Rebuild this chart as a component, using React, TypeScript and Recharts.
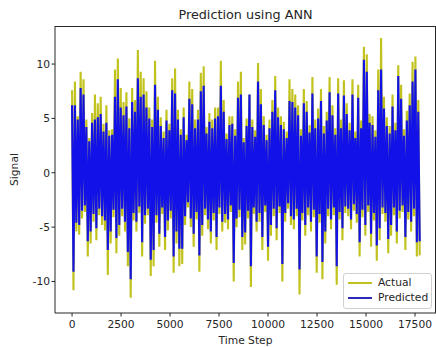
import React from 'react';
import { LineChart, Line, XAxis, YAxis } from 'recharts';

// local maxima / minima, one pair per ~146 time steps
const actualPeaks = [
  7.6, 8.4, 5.2, 9.3, 8.6, 4.9, 3.2, 5.5, 7.2, 6.4, 7.0, 4.5, 6.2, 3.9, 4.0, 9.5, 10.5, 7.8, 6.5, 7.4,
  5.0, 7.8, 6.7, 11.3, 9.3, 8.7, 7.5, 6.0, 4.9, 10.3, 7.0, 5.1, 3.8, 5.8, 4.5, 8.7, 9.6, 5.8, 4.0, 6.0,
  3.5, 8.4, 7.7, 4.9, 5.8, 9.2, 9.8, 4.2, 5.5, 4.9, 6.0, 6.0, 10.3, 6.7, 3.6, 5.2, 5.2, 4.0, 8.4, 9.3,
  3.2, 5.0, 7.2, 4.9, 3.9, 10.1, 7.7, 5.2, 3.5, 4.9, 6.7, 8.9, 6.0, 5.2, 4.7, 3.8, 8.6, 7.7, 7.2, 6.2,
  4.0, 7.7, 6.6, 4.4, 8.8, 4.9, 5.9, 7.7, 4.3, 5.6, 8.8, 6.2, 4.1, 8.7, 4.9, 8.5, 6.4, 4.6, 8.6, 3.8,
  8.1, 4.8, 11.6, 10.9, 5.4, 5.2, 3.9, 9.5, 12.4, 7.0, 5.1, 4.3, 7.2, 4.6, 9.9, 8.1, 4.0, 5.7, 7.3, 10.2,
  10.7, 6.7,
];
const actualTroughs = [
  -10.8, -5.4, -5.7, -4.2, -3.6, -7.7, -6.5, -4.5, -6.2, -3.9, -4.8, -5.3, -9.4, -6.5, -4.1, -7.4, -5.8, -4.0, -5.4, -8.6,
  -11.5, -4.4, -5.4, -3.7, -7.7, -4.7, -3.9, -9.5, -8.6, -4.6, -6.8, -3.8, -7.1, -5.3, -4.2, -9.2, -6.5, -8.6, -8.4, -4.8,
  -3.2, -5.0, -6.8, -4.3, -9.1, -5.8, -3.9, -5.2, -6.5, -4.4, -7.1, -3.8, -5.4, -4.6, -5.2, -3.6, -10.0, -5.0, -4.1, -7.1,
  -6.6, -4.2, -10.5, -3.8, -5.4, -4.5, -7.1, -3.6, -8.1, -5.8, -4.0, -6.2, -3.7, -10.0, -4.5, -3.3, -4.8, -5.2, -4.0, -11.2,
  -4.4, -5.8, -3.9, -5.4, -4.1, -9.2, -4.6, -9.8, -6.5, -4.0, -5.2, -3.9, -10.3, -4.3, -6.2, -3.7, -4.0, -5.2, -3.5, -4.6,
  -7.7, -4.1, -5.8, -3.6, -6.8, -4.4, -8.1, -6.2, -3.8, -4.5, -7.4, -5.8, -3.9, -6.5, -4.2, -3.6, -7.1, -4.3, -5.4, -4.0,
  -7.7, -7.6,
];
const predictedPeaks = [
  6.2, 6.2, 4.9, 7.8, 7.2, 4.2, 2.9, 4.6, 4.9, 5.1, 5.4, 3.8, 4.6, 3.4, 3.5, 7.0, 8.6, 6.0, 5.3, 6.1,
  4.1, 6.5, 5.6, 8.7, 7.0, 7.2, 6.0, 5.0, 4.2, 8.1, 5.8, 4.3, 3.2, 4.8, 3.9, 7.6, 7.3, 4.9, 3.5, 5.1,
  3.0, 6.8, 6.3, 4.1, 4.9, 7.5, 8.0, 3.6, 4.7, 4.1, 5.0, 5.2, 8.0, 5.6, 3.1, 4.4, 4.5, 3.4, 6.9, 7.2,
  2.8, 4.3, 7.2, 4.2, 3.3, 8.4, 6.3, 4.4, 3.0, 4.1, 5.6, 7.6, 5.1, 4.4, 4.0, 3.2, 6.6, 6.5, 6.0, 5.3,
  3.4, 6.4, 5.6, 3.7, 7.3, 4.1, 5.0, 6.6, 3.6, 4.8, 7.4, 5.3, 3.5, 7.3, 4.1, 7.1, 5.4, 3.9, 7.2, 3.2,
  6.9, 4.1, 10.4, 9.3, 4.6, 4.4, 3.3, 7.6, 9.5, 5.9, 4.3, 3.6, 6.1, 3.9, 8.9, 6.8, 3.4, 4.8, 6.2, 8.4,
  9.5, 5.6,
];
const predictedTroughs = [
  -9.1, -4.6, -4.8, -3.5, -3.0, -6.3, -5.4, -3.8, -5.1, -3.3, -4.0, -4.4, -7.1, -5.4, -3.4, -6.0, -4.8, -3.3, -4.5, -7.3,
  -9.8, -3.7, -4.5, -3.1, -6.4, -3.9, -3.3, -8.0, -7.1, -3.9, -5.6, -3.2, -5.9, -4.4, -3.5, -7.7, -5.4, -7.0, -7.0, -4.0,
  -2.7, -4.2, -5.6, -3.6, -7.6, -4.8, -3.3, -4.3, -5.4, -3.7, -5.9, -3.2, -4.5, -3.8, -4.3, -3.0, -8.3, -4.2, -3.4, -5.9,
  -5.5, -3.5, -8.6, -3.2, -4.5, -3.7, -5.9, -3.0, -6.8, -4.8, -3.3, -5.1, -3.1, -8.4, -3.7, -2.8, -4.0, -4.3, -3.3, -8.9,
  -3.7, -4.8, -3.2, -4.5, -3.4, -7.7, -3.8, -8.2, -5.4, -3.3, -4.3, -3.2, -8.6, -3.6, -5.1, -3.1, -3.3, -4.3, -2.9, -3.8,
  -6.4, -3.4, -4.8, -3.0, -5.6, -3.7, -6.7, -5.1, -3.2, -3.7, -6.1, -4.8, -3.2, -5.4, -3.5, -3.0, -5.9, -3.6, -4.5, -3.3,
  -6.4, -6.3,
];

const xTicks = [0, 2500, 5000, 7500, 10000, 12500, 15000, 17500];
const yTicks = [-10, -5, 0, 5, 10];

const STEP = 146;
const data: { t: number; actual: number; predicted: number }[] = [];
actualPeaks.forEach((v, i) => {
  data.push({ t: i * STEP, actual: v, predicted: predictedPeaks[i] });
  data.push({ t: i * STEP + STEP / 2, actual: actualTroughs[i], predicted: predictedTroughs[i] });
});

const FONT = '"DejaVu Sans", sans-serif';
const ACTUAL = '#c2c21e';
const PREDICTED = '#1212e8';
const INK = '#262626';

const legendItems = [
  { name: 'Actual', color: ACTUAL },
  { name: 'Predicted', color: '#2a2ab8' },
];

export default function App() {
  return (
    <div style={{ position: 'absolute', left: 0, top: 0, width: 436, height: 347, background: '#fff', fontFamily: FONT }}>
      <div style={{ position: 'absolute', left: 55, width: 381, top: 7, textAlign: 'center', fontSize: 12.8, lineHeight: '15px', color: INK }}>
        Prediction using ANN
      </div>
      <LineChart width={436} height={347} data={data} margin={{ top: 26, right: 0, bottom: 0, left: 0 }}>
        <XAxis
          dataKey="t"
          type="number"
          domain={[-870, 18570]}
          allowDataOverflow
          ticks={xTicks}
          height={34}
          tickSize={3.5}
          tickMargin={4}
          stroke={INK}
          tick={{ fill: INK, fontSize: 10.7, fontFamily: FONT }}
          label={{ value: 'Time Step', position: 'insideBottom', offset: 3, fill: INK, fontSize: 10.7, fontFamily: FONT }}
        />
        <YAxis
          type="number"
          domain={[-12.9, 13.5]}
          allowDataOverflow
          ticks={yTicks}
          width={55}
          tickSize={3.5}
          tickMargin={1.5}
          stroke={INK}
          tick={{ fill: INK, fontSize: 10.7, fontFamily: FONT }}
          label={{ value: 'Signal', angle: -90, position: 'insideLeft', offset: 14, fill: INK, fontSize: 10.7, fontFamily: FONT, style: { textAnchor: 'middle' } }}
        />
        <Line dataKey="actual" type="linear" stroke={ACTUAL} strokeWidth={2.1} dot={false} isAnimationActive={false} />
        <Line dataKey="predicted" type="linear" stroke={PREDICTED} strokeWidth={2.1} dot={false} isAnimationActive={false} />
      </LineChart>
      {/* top and right spines */}
      <div
        style={{
          position: 'absolute', left: 55, top: 26, width: 381, height: 287, boxSizing: 'border-box',
          borderTop: `1px solid ${INK}`, borderRight: `1px solid ${INK}`, pointerEvents: 'none',
        }}
      />
      <div
        style={{
          position: 'absolute', left: 343, top: 273, width: 89, height: 36,
          background: 'rgba(255,255,255,0.85)', border: '1px solid #d0d0d0', borderRadius: 3, boxSizing: 'border-box',
        }}
      >
        {legendItems.map((it, i) => (
          <div key={it.name} style={{ position: 'absolute', left: 4, top: 2 + i * 15, height: 14, display: 'flex', alignItems: 'center' }}>
            <span style={{ display: 'inline-block', width: 24, height: 1.5, background: it.color, marginRight: 6 }} />
            <span style={{ fontSize: 10.7, color: INK, lineHeight: '14px' }}>{it.name}</span>
          </div>
        ))}
      </div>
    </div>
  );
}
